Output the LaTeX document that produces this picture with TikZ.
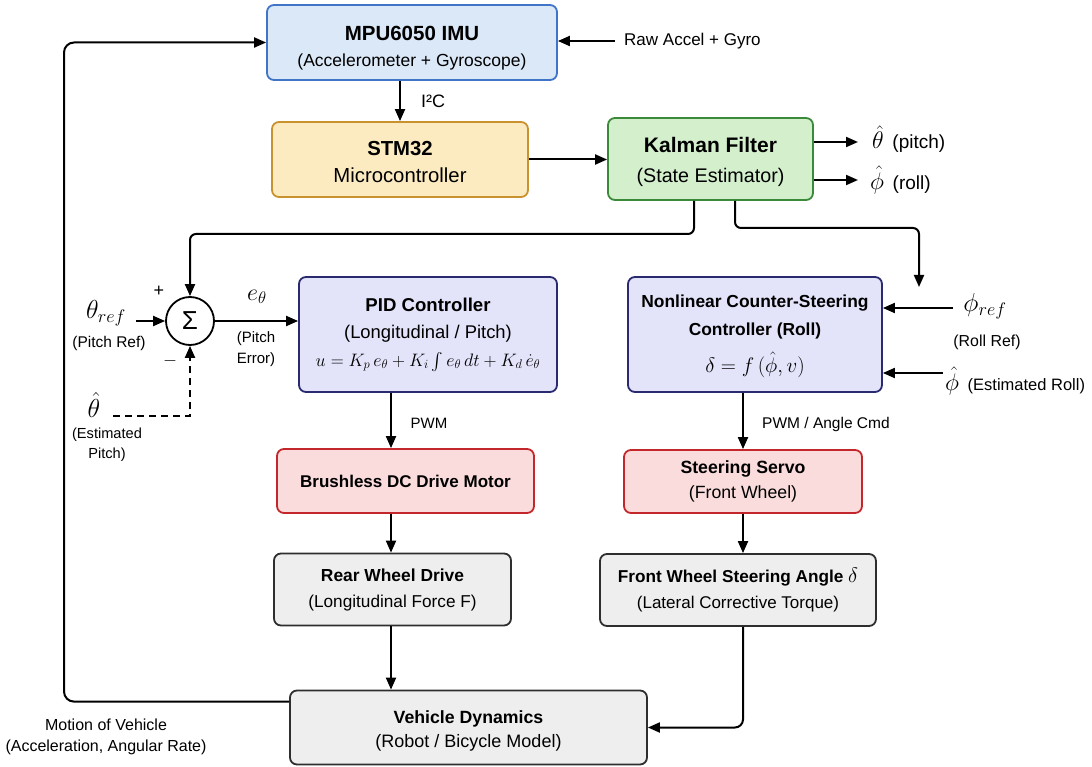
\RequirePackage{fix-cm}
\documentclass[tikz,border=0pt]{standalone}
\usepackage{amsmath}
\usepackage{fontspec}
\setmainfont{Liberation Sans}
\usetikzlibrary{arrows.meta,calc}
\definecolor{mpuF}{HTML}{DBE8F8}\definecolor{mpuD}{HTML}{3F74C6}
\definecolor{stmF}{HTML}{FCEAC0}\definecolor{stmD}{HTML}{C9922F}
\definecolor{kalF}{HTML}{D3EFCC}\definecolor{kalD}{HTML}{3A8A3A}
\definecolor{pidF}{HTML}{E3E3FA}\definecolor{pidD}{HTML}{2A2A70}
\definecolor{motF}{HTML}{FADCDC}\definecolor{motD}{HTML}{C3272B}
\definecolor{grF}{HTML}{EEEEEE}\definecolor{grD}{HTML}{2E2E2E}
\newcommand\fz[2]{\fontsize{#1}{#2}\selectfont}
\newcommand\fS{\fontsize{15.5}{21}\selectfont}
\newcommand\fM{\fontsize{26}{30}\selectfont}
\begin{document}
\begin{tikzpicture}[x=1pt,y=-1pt,
  box/.style={draw, rounded corners=7pt, line width=1.8pt, align=center, inner sep=0pt},
  arr/.style={-{Triangle[length=12pt,width=10pt]}, line width=2pt},
  lbl/.style={inner sep=0pt, font=\fS, align=center}]
\path[use as bounding box] (0,0) rectangle (1092,767);

% boxes
\node[box, draw=mpuD, fill=mpuF, minimum width=290pt, minimum height=75pt, font=\fz{17.5}{26}] (mpu) at (412,42.5)
  {\rule{0pt}{25pt}{\fz{20.5}{26}\bfseries MPU6050 IMU}\\ (Accelerometer + Gyroscope)};
\node[box, draw=stmD, fill=stmF, minimum width=256pt, minimum height=75pt, font=\fz{20.3}{27}] (stm) at (400,159.5)
  {\rule{0pt}{19pt}{\bfseries STM32}\\ Microcontroller};
\node[box, draw=kalD, fill=kalF, minimum width=205pt, minimum height=82pt, font=\fz{19.7}{30}] (kal) at (710.5,159)
  {\rule{0pt}{21.5pt}{\fz{21}{30}\bfseries Kalman Filter}\\ (State Estimator)};
\node[box, draw=pidD, fill=pidF, minimum width=258pt, minimum height=115pt, font=\fz{18.4}{27}] (pid) at (428,334.5)
  {{\fz{18.6}{27}\bfseries PID Controller}\\ (Longitudinal / Pitch)\\[1pt] {\fz{18}{27}$u = K_p\, e_\theta + K_i \int e_\theta\, dt + K_d\, \dot e_\theta$}};
\node[box, draw=pidD, fill=pidF, minimum width=254pt, minimum height=115pt, font=\fz{17.4}{28}\bfseries] (ncs) at (755,334.5)
  {\rule{0pt}{16pt}Nonlinear Counter-Steering\\ Controller (Roll)\\[9pt] {\fz{21}{27}\mdseries $\delta = f\,(\hat\phi, v)$}};
\node[box, draw=motD, fill=motF, minimum width=257pt, minimum height=64pt, font=\fz{17}{25}\bfseries] (bldc) at (405.5,481)
  {Brushless DC Drive Motor};
\node[box, draw=motD, fill=motF, minimum width=238pt, minimum height=63pt, font=\fz{17.7}{25}] (servo) at (743,481.5)
  {{\bfseries Steering Servo}\\ (Front Wheel)};
\node[box, draw=grD, fill=grF, minimum width=237pt, minimum height=72pt, font=\fz{17.2}{26}] (rear) at (392.5,589.5)
  {{\fz{17.4}{26}\bfseries Rear Wheel Drive}\\ (Longitudinal Force F)};
\node[box, draw=grD, fill=grF, minimum width=276pt, minimum height=72pt, font=\fz{17}{26}] (front) at (738,590)
  {{\fz{17.2}{26}\bfseries Front Wheel Steering Angle {\fz{21}{26}$\delta$}}\\ (Lateral Corrective Torque)};
\node[box, draw=grD, fill=grF, minimum width=357pt, minimum height=74pt, font=\fz{18}{24}] (vd) at (468.5,727.5)
  {\rule{0pt}{19pt}{\fz{17.7}{24}\bfseries Vehicle Dynamics}\\ (Robot / Bicycle Model)};

% summing junction
\node[circle, draw, line width=1.8pt, minimum size=48pt, inner sep=0pt, fill=white, font=\fz{26}{26}] (sum) at (190,321)
  {Σ};

% coordinates
\coordinate (xA) at (391,0);
\coordinate (xB) at (743,0);
\coordinate (fbx) at (64,0);
\coordinate (busA) at (0,234);
\coordinate (busB) at (0,228);
\coordinate (phin) at (919,287);
\coordinate (k1) at ($(kal.south)+(-16.5,0)$);
\coordinate (k2) at ($(kal.south)+(24.5,0)$);
\coordinate (thOut) at (858,142);
\coordinate (phOut) at (858,180);
\coordinate (rawS) at (615,41);
\coordinate (threfS) at (136,321);
\coordinate (phrefS) at (953,308);
\coordinate (phhatS) at (943,373);
\coordinate (thhatS) at (113,416);

% labels
\node[lbl, anchor=west, font=\fz{17}{20}] (raw) at (624,41) {Raw Accel + Gyro};
\node[lbl, anchor=west, font=\fz{18}{20}] (i2c) at (421,101) {I²C};
\node[lbl, anchor=west] (thlbl) at (872,139) {{\fz{24}{24}$\hat\theta$}\ \ {\fz{19}{20}(pitch)}};
\node[lbl, anchor=west] (phlbl) at (870,180) {{\fz{24}{24}$\hat\phi$}\ \ {\fz{19}{20}(roll)}};
\node[lbl] (thref) at (106,313) {\fM$\theta_{ref}$};
\node[lbl] (threfT) at (109,343) {(Pitch Ref)};
\node[lbl, font=\fz{18}{20}] (plus) at (159,291) {+};
\node[lbl, font=\fz{18}{20}] (minus) at (170,361) {$-$};
\node[lbl] (eth) at (257,297) {\fz{24}{24}$e_\theta$};
\node[lbl, font=\fz{15}{21}] (ethT) at (256,349) {(Pitch\\Error)};
\node[lbl] (thhat) at (94,405) {\fM$\hat\theta$};
\node[lbl, font=\fz{14.6}{20}] (thhatT) at (107,445) {(Estimated\\Pitch)};
\node[lbl, font=\fz{15}{20}] (pwm1) at (429,423) {PWM};
\node[lbl, anchor=west] (pwm2) at (762,424) {PWM / Angle Cmd};
\node[lbl] (phref) at (985,306) {\fM$\phi_{ref}$};
\node[lbl, font=\fz{15.9}{20}] (phrefT) at (987,342) {(Roll Ref)};
\node[lbl, anchor=west] (phhat) at (945,381) {{\fz{24}{24}$\hat\phi$}\ \ {\fz{16.5}{20}(Estimated Roll)}};
\node[lbl, font=\fz{16}{21}] (motion) at (106,737) {Motion of Vehicle\\(Acceleration, Angular Rate)};

% connectors
\draw[arr] (stm.north |- mpu.south) -- (stm.north);
\draw[arr] (rawS) -- (rawS -| mpu.east);
\draw[arr] (stm.east) -- (kal.west |- stm.east);
\draw[arr] (kal.east |- thOut) -- (thOut);
\draw[arr] (kal.east |- phOut) -- (phOut);
\draw[arr, rounded corners=6pt] (k1) |- (sum.north |- busA) -- (sum.north);
\draw[arr, rounded corners=6pt] (k2) |- (phin |- busB) -- (phin);
\draw[arr] (threfS) -- (sum.west);
\draw[arr] (sum.east) -- (pid.west |- sum.east);
\draw[arr, dash pattern=on 7pt off 5pt] (thhatS) -| (sum.south);
\draw[arr] (xA |- pid.south) -- (xA |- bldc.north);
\draw[arr] (xA |- bldc.south) -- (xA |- rear.north);
\draw[arr] (xA |- rear.south) -- (xA |- vd.north);
\draw[arr] (xB |- ncs.south) -- (xB |- servo.north);
\draw[arr] (xB |- servo.south) -- (xB |- front.north);
\draw[arr, rounded corners=8pt] (xB |- front.south) |- (vd.east);
\draw[arr] (phrefS) -- (phrefS -| ncs.east);
\draw[arr] (phhatS) -- (phhatS -| ncs.east);
\draw[arr, rounded corners=10pt] ($(vd.north west)+(0,12)$) -| (fbx |- mpu.west) -- (mpu.west);
\end{tikzpicture}
\end{document}
